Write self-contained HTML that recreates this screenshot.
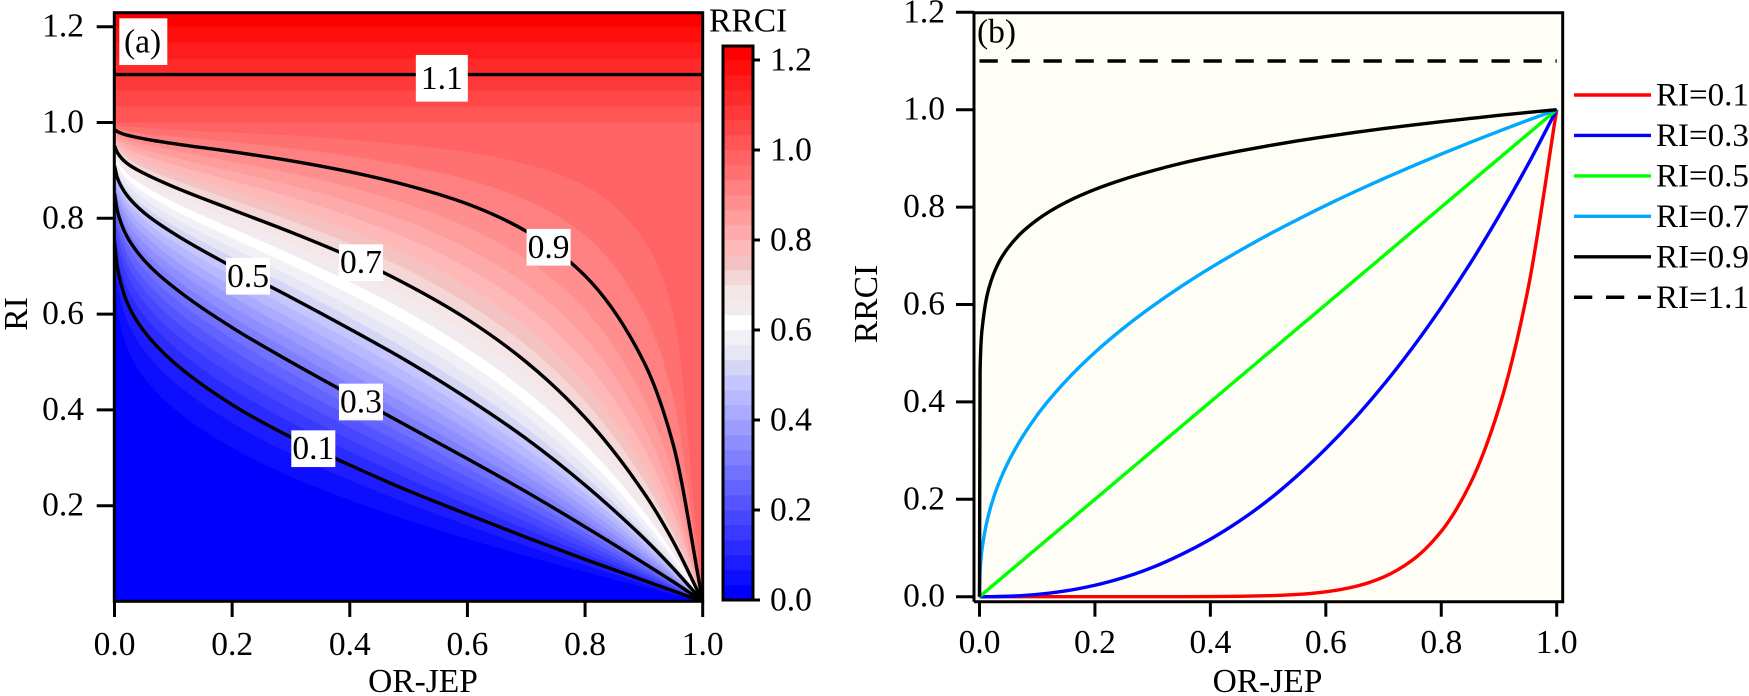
<!DOCTYPE html>
<html lang="en">
<head>
<meta charset="utf-8">
<title>RRCI contour map and line chart</title>
<style>
html,body{margin:0;padding:0;background:#fff;width:1749px;height:696px;overflow:hidden}
svg{display:block}
text{font-family:"Liberation Serif",serif;font-size:33.5px;fill:#000}
</style>
</head>
<body>
<svg id="figure" xmlns="http://www.w3.org/2000/svg" width="1749" height="696" viewBox="0 0 1749 696">
  <defs>
    <clipPath id="map-clip"><rect x="114.5" y="12.7" width="588.2" height="588.8"/></clipPath>
  </defs>
  <g id="panel-a">
    <g id="bands" clip-path="url(#map-clip)"></g>
    <g id="contours" clip-path="url(#map-clip)"></g>
    <rect x="114.3" y="12.7" width="588.4" height="588.6" fill="none" stroke="#000" stroke-width="3"/>
    <g id="a-axes"></g>
    <rect x="119.3" y="18.3" width="48" height="46.7" fill="#fff"/>
    <text x="124" y="52.7">(a)</text>
    <g id="contour-labels"></g>
    <text x="423" y="692" text-anchor="middle">OR-JEP</text>
    <text transform="translate(27,314) rotate(-90)" text-anchor="middle">RI</text>
  </g>
  <g id="colorbar">
    <text x="709" y="31.7">RRCI</text>
  </g>
  <g id="panel-b">
    <rect x="974" y="12.7" width="588.7" height="589" fill="#fffef6"/>
    <g id="b-series"></g>
    <path d="M974 601.7V12.7H1562.7V601.7H974" fill="none" stroke="#000" stroke-width="3"/>
    <g id="b-axes"></g>
    <text x="977" y="42.7">(b)</text>
    <text x="1267.5" y="692" text-anchor="middle">OR-JEP</text>
    <text transform="translate(877,304) rotate(-90)" text-anchor="middle">RRCI</text>
    <g id="legend" font-size="33"></g>
  </g>
</svg>
<script>
// ---- panel (a) data ----
var bandLevels = [0,.0333,.0667,.1,.1333,.1667,.2,.2333,.2667,.3,.3333,.3667,.4,.4333,.4667,.5,.5333,.5667,.6,.6333,.6667,.7,.7333,.7667,.8,.8333,.8667,.9,.9333,.9667,1,1.0333,1.0667,1.1,1.1333,1.1667,1.2];
var contourX = [0,.005,.02,.05,.1,.2,.3,.4,.5,.6,.7,.8,.9,.95,1];
// RI of each band's lower edge, read at each contourX (levels 1/30 ... 29/30)
var bandBoundaryRI = [
[.670,.609,.535,.468,.404,.321,.261,.212,.169,.131,.095,.062,.030,.015,0],
[.718,.662,.591,.525,.460,.373,.308,.253,.204,.159,.116,.076,.037,.018,0],
[.750,.697,.629,.565,.500,.411,.343,.285,.231,.182,.134,.088,.044,.022,0],
[.774,.724,.660,.598,.533,.444,.374,.313,.256,.202,.151,.100,.050,.025,0],
[.794,.747,.686,.626,.562,.473,.402,.338,.279,.222,.166,.111,.055,.028,0],
[.811,.767,.709,.651,.589,.500,.428,.363,.301,.241,.182,.122,.061,.031,0],
[.826,.785,.729,.673,.613,.525,.453,.386,.323,.260,.197,.133,.067,.034,0],
[.839,.800,.747,.694,.635,.549,.477,.409,.344,.279,.213,.144,.074,.037,0],
[.852,.815,.765,.713,.657,.572,.500,.432,.365,.298,.229,.156,.080,.041,0],
[.863,.828,.781,.732,.677,.594,.523,.455,.387,.317,.245,.169,.087,.044,0],
[.873,.841,.796,.749,.697,.616,.546,.477,.409,.338,.263,.182,.095,.048,0],
[.883,.853,.810,.766,.715,.637,.568,.500,.431,.358,.280,.196,.103,.053,0],
[.892,.864,.824,.782,.734,.658,.590,.523,.453,.379,.299,.211,.112,.057,0],
[.901,.874,.837,.797,.751,.679,.612,.546,.476,.401,.319,.226,.121,.063,0],
[.909,.884,.850,.812,.769,.699,.635,.569,.500,.424,.340,.243,.132,.069,0],
[.917,.894,.861,.826,.785,.719,.657,.593,.524,.448,.362,.262,.143,.075,0],
[.924,.903,.873,.841,.802,.739,.679,.617,.550,.474,.386,.282,.156,.082,0],
[.931,.912,.884,.854,.818,.759,.702,.642,.576,.500,.411,.304,.170,.091,0],
[.938,.921,.895,.868,.834,.779,.725,.667,.603,.528,.439,.328,.187,.100,0],
[.945,.929,.906,.881,.850,.799,.748,.693,.631,.558,.469,.355,.206,.112,0],
[.951,.937,.916,.894,.866,.818,.771,.720,.660,.589,.500,.384,.227,.125,0],
[.957,.945,.927,.906,.881,.838,.795,.747,.691,.622,.535,.418,.253,.141,0],
[.963,.952,.936,.918,.896,.858,.819,.775,.723,.658,.573,.456,.283,.161,0],
[.969,.960,.946,.931,.912,.878,.844,.804,.757,.696,.616,.500,.320,.186,0],
[.974,.967,.956,.943,.927,.898,.869,.834,.792,.737,.662,.551,.366,.219,0],
[.980,.974,.965,.954,.942,.918,.894,.865,.829,.781,.714,.609,.423,.263,0],
[.985,.981,.974,.966,.956,.939,.920,.897,.868,.830,.773,.680,.500,.327,0],
[.990,.987,.983,.977,.971,.959,.946,.930,.909,.881,.838,.764,.603,.425,0],
[.995,.994,.991,.989,.985,.979,.973,.964,.953,.938,.913,.868,.755,.600,0]
];
// above RRCI = 1 the bands are horizontal
var upperBandRI = [1,1.0333,1.0667,1.1,1.1333,1.1667,1.2];
var contourLevels = [.1,.3,.5,.7,.9,1.1];
var aXTicks = [0,.2,.4,.6,.8,1];
var aXTickLabels = ["0.0","0.2","0.4","0.6","0.8","1.0"];
var aYTicks = [.2,.4,.6,.8,1,1.2];
var aYTickLabels = ["0.2","0.4","0.6","0.8","1.0","1.2"];
var cbTicks = [0,.2,.4,.6,.8,1,1.2];
var cbTickLabels = ["0.0","0.2","0.4","0.6","0.8","1.0","1.2"];
var contourLabelText = ["1.1","0.9","0.7","0.5","0.3","0.1"];
var contourLabelX = [.5565,.738,.419,.227,.419,.338];
var contourLabelRI = [1.0923,.7395,.7073,.679,.4165,.319];

// ---- panel (b) data ----
var seriesX = [0,.001,.005,.02,.05,.1,.15,.2,.25,.3,.35,.4,.45,.5,.55,.6,.65,.7,.75,.8,.85,.9,.95,1];
var ri01 = [0,0,0,0,0,0,0,0,0,0,.0001,.0003,.0008,.002,.0046,.0101,.0207,.0404,.0751,.1342,.2316,.3874,.6302,1];
var ri03 = [0,0,0,.0001,.0009,.0046,.012,.0235,.0394,.0603,.0868,.118,.155,.198,.248,.304,.366,.435,.511,.594,.684,.782,.887,1];
var ri05 = [0,.001,.005,.02,.05,.1,.15,.2,.25,.3,.35,.4,.45,.5,.55,.6,.65,.7,.75,.8,.85,.9,.95,1];
var ri07 = [0,.052,.103,.187,.277,.373,.4435,.5017,.552,.5968,.6376,.6751,.710,.743,.7738,.8034,.8315,.8583,.884,.9089,.9327,.9559,.9783,1];
var ri09 = [0,.464,.555,.648,.717,.774,.81,.8363,.8572,.8747,.89,.9032,.9151,.9259,.9358,.9448,.9533,.9612,.9685,.9755,.982,.9884,.9943,1];
var ri11 = [1.1,1.1];
var ri11X = [0,1];
var bXTicks = [0,.2,.4,.6,.8,1];
var bXTickLabels = ["0.0","0.2","0.4","0.6","0.8","1.0"];
var bYTicks = [0,.2,.4,.6,.8,1,1.2];
var bYTickLabels = ["0.0","0.2","0.4","0.6","0.8","1.0","1.2"];
var legendLabels = ["RI=0.1","RI=0.3","RI=0.5","RI=0.7","RI=0.9","RI=1.1"];

// ---- axis functions ----
function ax(v){return 114.5+588.2*v;}
function ay(v){return 601.5-479*v;}
function cy(v){return 600-450*v;}
function bx(v){return 979.5+577.2*v;}
function by(v){return 596.7-487*v;}

var NS = "http://www.w3.org/2000/svg";
function mk(tag,parent){var e=document.createElementNS(NS,tag);parent.appendChild(e);return e;}
function $(id){return document.getElementById(id);}
function bandColor(k){
  var over={15:"#d5d5f5",16:"#e6e6f5",17:"#f3eff7",18:"#ffffff",19:"#f3eaf0",20:"#f5e7e7",21:"#f5d6d6",22:"#f5c2c2"};
  if(over[k])return over[k];
  if(k<18){var a=Math.round(255*k/18);return "rgb("+a+","+a+",255)";}
  var b=Math.round(255*(1-(k-18)/18));return "rgb(255,"+b+","+b+")";
}
function boundaryRow(k){
  if(k<bandBoundaryRI.length+1)return bandBoundaryRI[k-1];
  var r=upperBandRI[k-30];
  return contourX.map(function(){return r;});
}
// monotone cubic path through pixel points (x strictly increasing)
function curve(px,py){
  var n=px.length,d=[],m=[],i;
  for(i=0;i<n-1;i++)d[i]=(py[i+1]-py[i])/(px[i+1]-px[i]);
  m[0]=d[0];m[n-1]=d[n-2];
  for(i=1;i<n-1;i++){
    if(d[i-1]*d[i]<=0){m[i]=0;continue;}
    var h0=px[i]-px[i-1],h1=px[i+1]-px[i];
    var w1=2*h1+h0,w2=h1+2*h0;
    m[i]=(w1+w2)/(w1/d[i-1]+w2/d[i]);
  }
  var s="M"+px[0].toFixed(2)+" "+py[0].toFixed(2);
  for(i=0;i<n-1;i++){
    var h=(px[i+1]-px[i])/3;
    s+="C"+(px[i]+h).toFixed(2)+" "+(py[i]+m[i]*h).toFixed(2)+" "+(px[i+1]-h).toFixed(2)+" "+(py[i+1]-m[i+1]*h).toFixed(2)+" "+px[i+1].toFixed(2)+" "+py[i+1].toFixed(2);
  }
  return s;
}
function line(parent,x1,y1,x2,y2,w){
  var l=mk("line",parent);
  l.setAttribute("x1",x1);l.setAttribute("y1",y1);l.setAttribute("x2",x2);l.setAttribute("y2",y2);
  l.setAttribute("stroke","#000");l.setAttribute("stroke-width",w||3);
  return l;
}
function label(parent,x,y,str,anchor){
  var t=mk("text",parent);
  t.setAttribute("x",x);t.setAttribute("y",y);
  t.setAttribute("text-anchor",anchor||"middle");
  t.textContent=str;
  return t;
}

// ---- filled contour bands ----
var bandsG=$("bands");
var base=mk("rect",bandsG);


base.setAttribute("x",ax(0));base.setAttribute("y",ay(1.23));
base.setAttribute("width",ax(1)-ax(0));base.setAttribute("height",ay(0)-ay(1.23));
base.setAttribute("fill",bandColor(0));
for(var k=1;k<bandLevels.length;k++){
  var row=boundaryRow(k);
  var pb=mk("path",bandsG);
  
  
  pb.setAttribute("d",curve(contourX.map(ax),row.map(ay))+"L"+ax(1)+" "+ay(1.24)+"L"+ax(0)+" "+ay(1.24)+"Z");
  pb.setAttribute("fill",bandColor(k));
}
// ---- contour lines ----
contourLevels.forEach(function(lv){
  var k=Math.max(1,Math.min(36,Math.round(lv*30)));
  var row=boundaryRow(k);
  var p=mk("path",$("contours"));
  
  
  p.setAttribute("d",curve(contourX.map(ax),row.map(ay)));
  p.setAttribute("fill","none");p.setAttribute("stroke","#000");p.setAttribute("stroke-width",3.4);
});
// ---- contour labels ----
contourLabelText.forEach(function(str,i){
  var g=$("contour-labels"),cx=ax(contourLabelX[i]),cyy=ay(contourLabelRI[i]);
  var w=i==0?52:44,h=i==0?46.7:36.7;
  var r=mk("rect",g);
  
  
  r.setAttribute("x",cx-w/2);r.setAttribute("y",cyy-h/2);r.setAttribute("width",w);r.setAttribute("height",h);r.setAttribute("fill","#fff");
  var t=label(g,cx,cyy+10.5,str);
  
  
});
// ---- panel a axes ----
aXTicks.forEach(function(v,i){
  var l=line($("a-axes"),ax(v),601,ax(v),617);
  
  
  var t=label($("a-axes"),ax(v),655,aXTickLabels[i]);
  
  
});
aYTicks.forEach(function(v,i){
  var l=line($("a-axes"),96.7,ay(v),114,ay(v));
  
  
  var t=label($("a-axes"),84,ay(v)+10,aYTickLabels[i],"end");
  
  
});
// ---- colorbar ----
var cbG=$("colorbar");
bandLevels.forEach(function(lv,k){
  var top=k+1<bandLevels.length?bandLevels[k+1]:1.231;
  var r=mk("rect",cbG);
  
  
  r.setAttribute("x",723);r.setAttribute("y",cy(top));r.setAttribute("width",30);
  r.setAttribute("height",cy(lv)-cy(top)+.3);r.setAttribute("fill",bandColor(k));
});
var cbf=mk("rect",cbG);


cbf.setAttribute("x",723);cbf.setAttribute("y",46);cbf.setAttribute("width",30);cbf.setAttribute("height",554);
cbf.setAttribute("fill","none");cbf.setAttribute("stroke","#000");cbf.setAttribute("stroke-width",3);
cbTicks.forEach(function(v,i){
  var l=line(cbG,753,cy(v),760,cy(v));
  
  
  var t=label(cbG,770,cy(v)+10.7,cbTickLabels[i],"start");
  
  
});
// ---- panel b series ----
function series(xs,ys,color,dash){
  var p=mk("path",$("b-series"));
  p.setAttribute("d",curve(xs.map(bx),ys.map(by)));
  p.setAttribute("fill","none");p.setAttribute("stroke",color);p.setAttribute("stroke-width",3.4);
  if(dash)p.setAttribute("stroke-dasharray",dash);
  return p;
}
var sRed=series(seriesX,ri01,"#ff0000");


var sBlue=series(seriesX,ri03,"#0000ff");


var sGreen=series(seriesX,ri05,"#00ff00");


var sSky=series(seriesX,ri07,"#00a8ff");


var sBlack=series(seriesX,ri09,"#000000");


var sDash=series(ri11X,ri11,"#000000","18.3 13.7");


// ---- panel b axes ----
bXTicks.forEach(function(v,i){
  var l=line($("b-axes"),bx(v),601.7,bx(v),616.7);
  
  
  var t=label($("b-axes"),bx(v),653,bXTickLabels[i]);
  
  
});
bYTicks.forEach(function(v,i){
  var l=line($("b-axes"),956,by(v),974,by(v));
  
  
  var t=label($("b-axes"),945,by(v)+10,bYTickLabels[i],"end");
  
  
});
// ---- legend ----
var legendColors=["#ff0000","#0000ff","#00ff00","#00a8ff","#000000","#000000"];
legendLabels.forEach(function(str,i){
  var yy=95+40.45*i;
  var l=line($("legend"),1574,yy,1651,yy,3.4);
  l.setAttribute("stroke",legendColors[i]);
  if(i==5)l.setAttribute("stroke-dasharray","18.3 13.7");
  
  
  var t=label($("legend"),1656,yy+10.5,str,"start");
  t.style.fontSize="33px";
  
  
});
</script>
</body>
</html>
